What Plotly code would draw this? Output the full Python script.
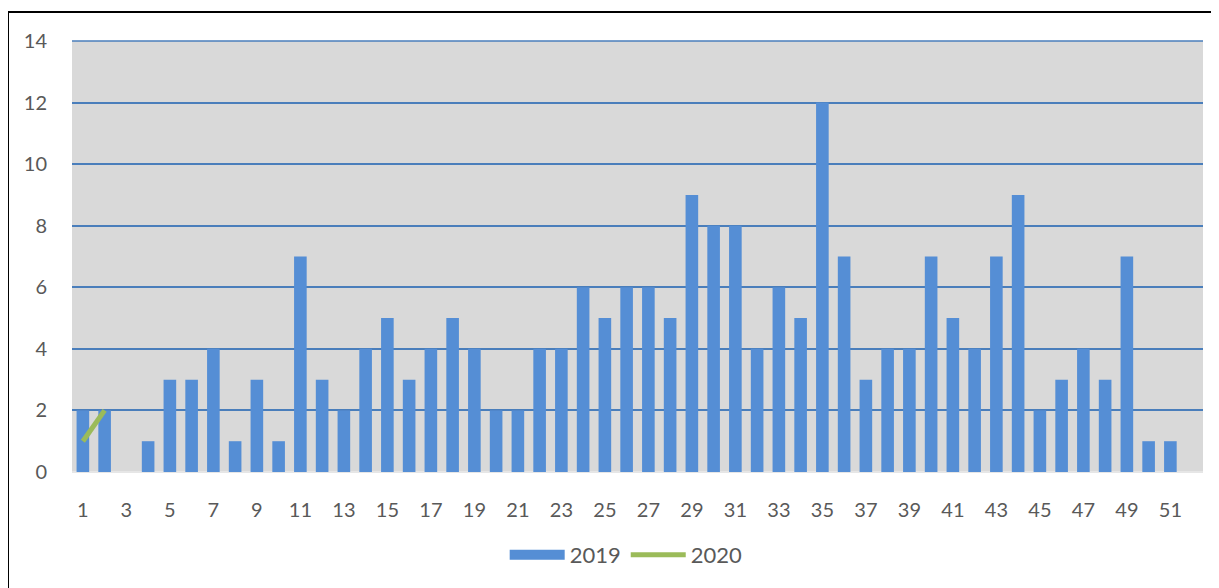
import plotly.graph_objects as go

weeks = [str(i) for i in range(1, 53)]
values_2019 = [2, 2, 0, 1, 3, 3, 4, 1, 3, 1, 7, 3, 2, 4, 5, 3, 4, 5, 4, 2,
               2, 4, 4, 6, 5, 6, 6, 5, 9, 8, 8, 4, 6, 5, 12, 7, 3, 4, 4, 7,
               5, 4, 7, 9, 2, 3, 4, 3, 7, 1, 1, None]
weeks_2020 = ["1", "2"]
values_2020 = [1, 2]
tick_labels = [str(i) for i in range(1, 53, 2)]

BLUE = "#558ED5"
GREEN = "#9BBB59"

fig = go.Figure()
fig.add_trace(go.Bar(x=weeks, y=values_2019, name="2019", showlegend=False,
                     marker=dict(color=BLUE, line=dict(width=0))))
fig.add_trace(go.Scatter(x=[None], y=[None], name="2019", mode="lines",
                         line=dict(color=BLUE, width=14)))
fig.add_trace(go.Scatter(x=weeks_2020, y=values_2020, name="2020", mode="lines",
                         line=dict(color=GREEN, width=5)))

# page has 8px body margin; figure coords = reference - 8
W, H = 1211, 580
L, T = 64, 33
R = W - (1203 - 8)
B = H - (472 - 8)
pw, ph = W - L - R, H - T - B

fig.update_layout(
    width=W, height=H,
    margin=dict(l=L, r=R, t=T, b=B),
    paper_bgcolor="white", plot_bgcolor="#D9D9D9",
    bargap=0.42,
    font=dict(family="Lato, Open Sans, sans-serif", size=20, color="#595959"),
    showlegend=True,
    legend=dict(orientation="h", x=0.49, xanchor="center", y=(472 - 555) / ph,
                yanchor="middle", font=dict(size=22, color="#595959"),
                itemwidth=55, traceorder="normal"),
    xaxis=dict(type="category", range=[-0.5, 51.5], tickmode="array",
               tickvals=tick_labels, ticktext=tick_labels, showgrid=False,
               ticks="outside", ticklen=20, tickcolor="rgba(0,0,0,0)",
               showline=False, zeroline=False),
    yaxis=dict(range=[0, 14], tickmode="linear", tick0=0, dtick=2,
               showgrid=True, gridcolor="#4A7EBB", gridwidth=1.5,
               zeroline=True, zerolinecolor="#E6E6E6", zerolinewidth=2,
               ticks="outside", ticklen=20, tickcolor="rgba(0,0,0,0)",
               showline=False),
)

# top gridline at the top of the plot area (hidden at range edge by default)
fig.add_shape(type="line", xref="paper", yref="paper", x0=0, x1=1, y0=1, y1=1,
              line=dict(color="#4A7EBB", width=1.5))

x_left = (8 - 8 - L) / pw
y_top = 1 + (T - (12 - 8)) / ph
fig.add_shape(type="line", xref="paper", yref="paper",
              x0=x_left, x1=(W + 10 - L) / pw, y0=y_top, y1=y_top,
              line=dict(color="black", width=2))
fig.add_shape(type="line", xref="paper", yref="paper",
              x0=x_left, x1=x_left, y0=y_top, y1=-(B + 10) / ph,
              line=dict(color="black", width=2))

fig.write_html("out.html")
